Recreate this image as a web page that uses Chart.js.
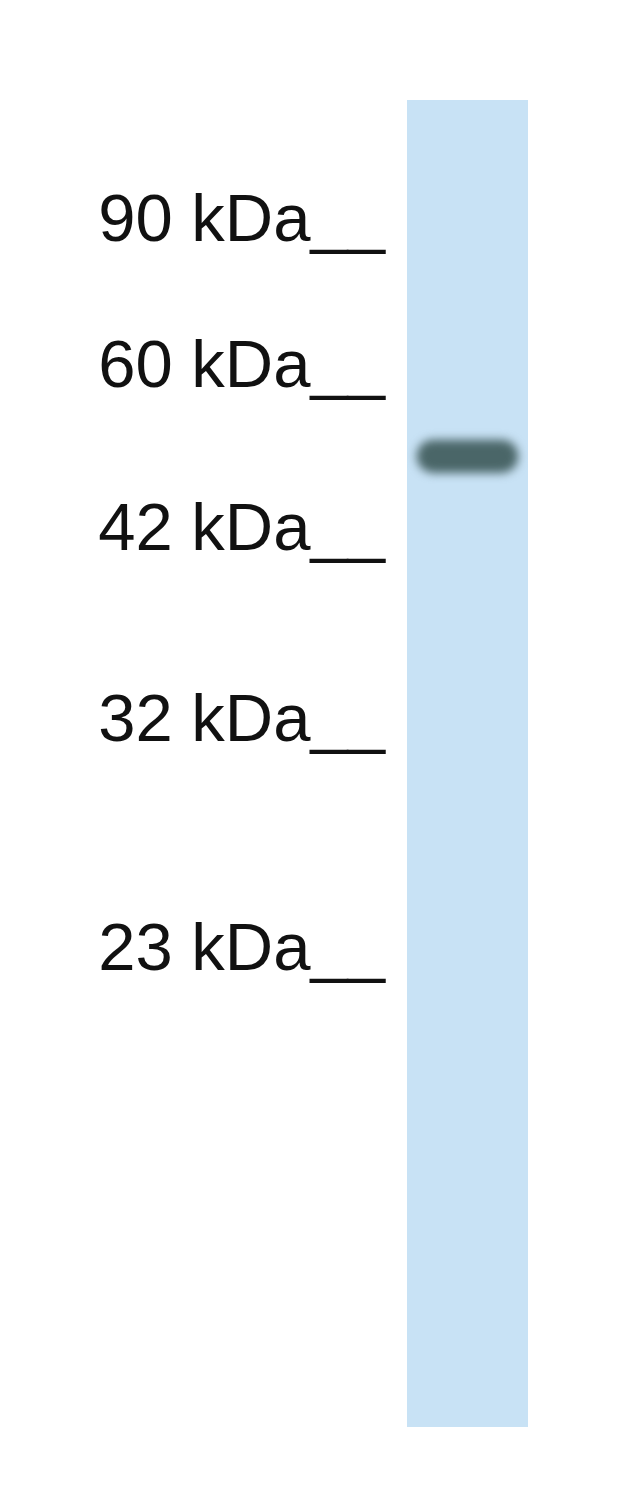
<!DOCTYPE html>
<html>
<head>
<meta charset="utf-8">
<script src="https://cdn.jsdelivr.net/npm/chart.js@4"></script>
<style>
  html, body { margin: 0; padding: 0; background: #ffffff; }
  #wrap { position: relative; width: 640px; height: 1493px; }
</style>
</head>
<body>
<div id="wrap"><canvas id="blot"></canvas></div>
<script>
// Marker ladder: relative migration (0 = top of lane, 1 = bottom)
const markerLabels = ["90 kDa__", "60 kDa__", "42 kDa__", "32 kDa__", "23 kDa__"];
const markerPositions = [0.092, 0.202, 0.3255, 0.4688, 0.642];

// One lane, one band
const lanes = ["lane 1"];
const laneSpan = [[0, 1]];
const bandSpan = [[0.256, 0.281]];

// Blur the band so it looks like a real blot band
const blurBand = {
  id: "blurBand",
  beforeDatasetDraw(chart, args) {
    if (args.index === 1) {
      chart.ctx.save();
      chart.ctx.filter = "blur(5px)";
    }
  },
  afterDatasetDraw(chart, args) {
    if (args.index === 1) chart.ctx.restore();
  },
};

new Chart(document.getElementById("blot"), {
  type: "bar",
  data: {
    labels: lanes,
    datasets: [
      {
        label: "lane",
        data: laneSpan,
        backgroundColor: "#c8e2f5",
        barPercentage: 1,
        categoryPercentage: 1,
        grouped: false,
        order: 2,
      },
      {
        label: "band",
        data: bandSpan,
        backgroundColor: "#4a6668",
        barPercentage: 0.84,
        categoryPercentage: 1,
        borderRadius: 40,
        borderSkipped: false,
        grouped: false,
        order: 1,
      },
    ],
  },
  options: {
    responsive: true,
    maintainAspectRatio: false,
    animation: false,
    layout: { padding: { top: 100, bottom: 66, right: 112, left: 0 } },
    plugins: { legend: { display: false }, tooltip: { enabled: false } },
    scales: {
      x: { display: false },
      y: {
        reverse: true,
        min: 0,
        max: 1,
        grid: { display: false, drawTicks: false },
        border: { display: false },
        afterFit(scale) { scale.width = 407; },
        afterBuildTicks(scale) {
          scale.ticks = markerPositions.map((v) => ({ value: v }));
        },
        ticks: {
          padding: 22,
          color: "#111111",
          autoSkip: false,
          font: { family: "'Liberation Sans', Arial, sans-serif", size: 67 },
          callback(value) {
            const i = markerPositions.indexOf(value);
            return i >= 0 ? markerLabels[i] : "";
          },
        },
      },
    },
  },
  plugins: [blurBand],
});
</script>
</body>
</html>
